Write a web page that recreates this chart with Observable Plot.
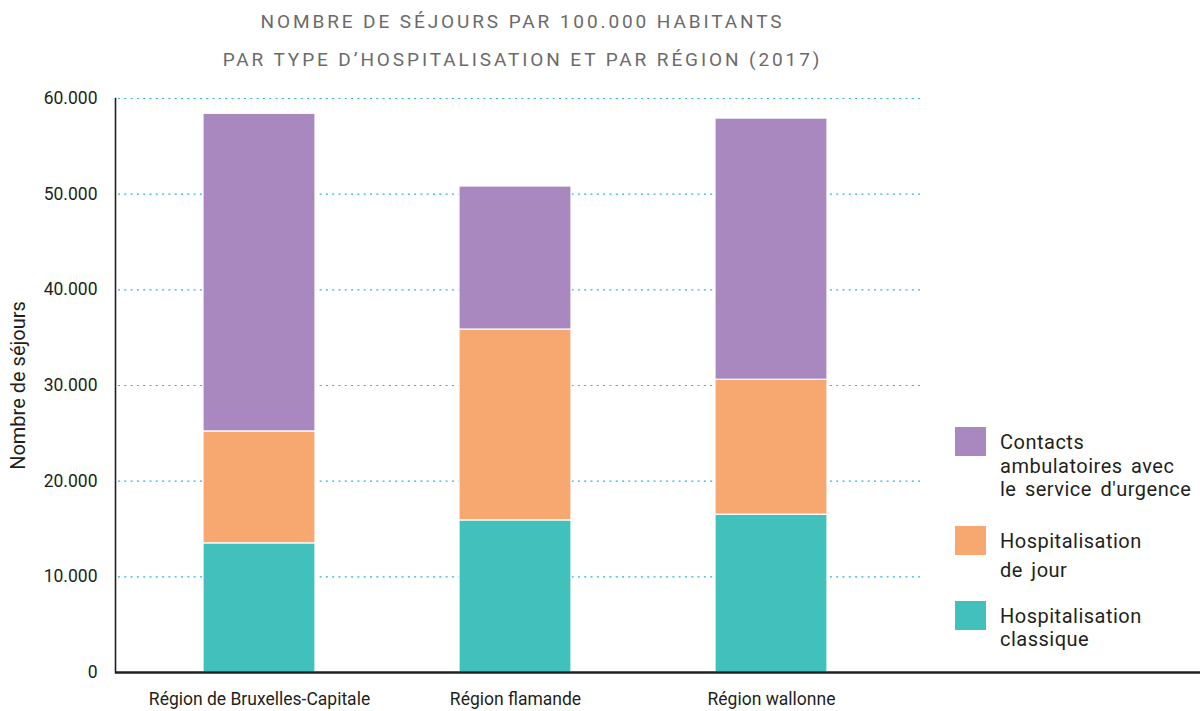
<!DOCTYPE html>
<html><head><meta charset="utf-8">
<script src="https://cdn.jsdelivr.net/npm/d3@7"></script>
<script src="https://cdn.jsdelivr.net/npm/@observablehq/plot@0.6"></script>
<style>
body{margin:0;background:#fff;font-family:"Roboto",sans-serif;}
#wrap{position:relative;width:1204px;height:711px;}
.t{position:absolute;left:0;width:1045px;text-align:center;color:#6b6b6b;font-size:19px;letter-spacing:2.9px;}
.lg{position:absolute;left:955px;width:31px;height:29px;}
.lt{position:absolute;left:1000px;color:#231f20;font-size:20px;line-height:23.5px;letter-spacing:0.5px;word-spacing:3px;white-space:nowrap;}
#chart{position:absolute;left:0;top:80px;}
</style></head>
<body><div id="wrap">
<div class="t" style="top:10px">NOMBRE DE SÉJOURS PAR 100.000 HABITANTS</div>
<div class="t" style="top:48px">PAR TYPE D’HOSPITALISATION ET PAR RÉGION (2017)</div>
<div id="chart"></div>
<div id="legend"></div>
</div>
<script>
const regions = ["Région de Bruxelles-Capitale", "Région flamande", "Région wallonne"];
const types = ["Hospitalisation classique", "Hospitalisation de jour", "Contacts ambulatoires avec le service d'urgence"];
const classique = [13500, 15900, 16500];
const jour = [11700, 19950, 14100];
const urgence = [33200, 14950, 27300];
const yTicks = [0, 10000, 20000, 30000, 40000, 50000, 60000];
const colors = ["#42c0bc", "#f7a870", "#a888be"];
const legendLines = [
  ["Contacts", "ambulatoires avec", "le service d'urgence"],
  ["Hospitalisation", "de jour"],
  ["Hospitalisation", "classique"]
];

const series = [classique, jour, urgence];
const data = [];
regions.forEach((r, i) => types.forEach((t, j) => data.push({region: r, type: t, value: series[j][i]})));

const fmt = d3.formatLocale({decimal: ",", thousands: ".", grouping: [3], currency: ["", "€"]}).format(",");

const chart = Plot.plot({
  width: 1204, height: 631,
  marginTop: 18, marginBottom: 39, marginLeft: 115, marginRight: 4,
  style: {fontFamily: '"Roboto",sans-serif', color: "#231f20", background: "transparent"},
  x: {domain: regions, range: [115, 915], paddingInner: 0.564, paddingOuter: 0.339, label: null},
  y: {domain: [0, 60000], label: null},
  color: {domain: types, range: colors},
  marks: [
    Plot.ruleY(yTicks.slice(1), {stroke: "#29b3e6", strokeDasharray: "2,4.3", strokeWidth: 1.2, insetLeft: 3, insetRight: 280}),
    Plot.barY(data, {x: "region", y: "value", fill: "type", order: types, stroke: "white", strokeWidth: 1.2}),
    Plot.frame({anchor: "left", stroke: "#231f20", strokeWidth: 1.6}),
    Plot.ruleY([0], {stroke: "#231f20", strokeWidth: 2.6}),
    Plot.axisY({ticks: yTicks, tickFormat: fmt, tickSize: 0, tickPadding: 18, fontSize: 17.5, label: null}),
    Plot.axisX({tickSize: 0, tickPadding: 20, fontSize: 17.5, label: null}),
    Plot.text(["Nombre de séjours"], {frameAnchor: "left", textAnchor: "middle", rotate: -90, dx: -97, fontSize: 20, fill: "#231f20"})
  ]
});
document.getElementById("chart").appendChild(chart);

const lg = document.getElementById("legend");
const tops = [427, 526, 601];
const order = [2, 1, 0];
const textTops = [[431], [530, 559], [605, 628]];
legendLines.forEach((lines, k) => {
  const sw = document.createElement("div");
  sw.className = "lg";
  sw.style.top = tops[k] + "px";
  sw.style.background = colors[order[k]];
  lg.appendChild(sw);
  if (k === 0) {
    const tx = document.createElement("div");
    tx.className = "lt"; tx.style.top = textTops[0][0] + "px";
    tx.innerHTML = lines.join("<br>");
    lg.appendChild(tx);
  } else {
    lines.forEach((l, m) => {
      const tx = document.createElement("div");
      tx.className = "lt"; tx.style.top = textTops[k][m] + "px";
      tx.textContent = l;
      lg.appendChild(tx);
    });
  }
});
</script>
</body></html>
